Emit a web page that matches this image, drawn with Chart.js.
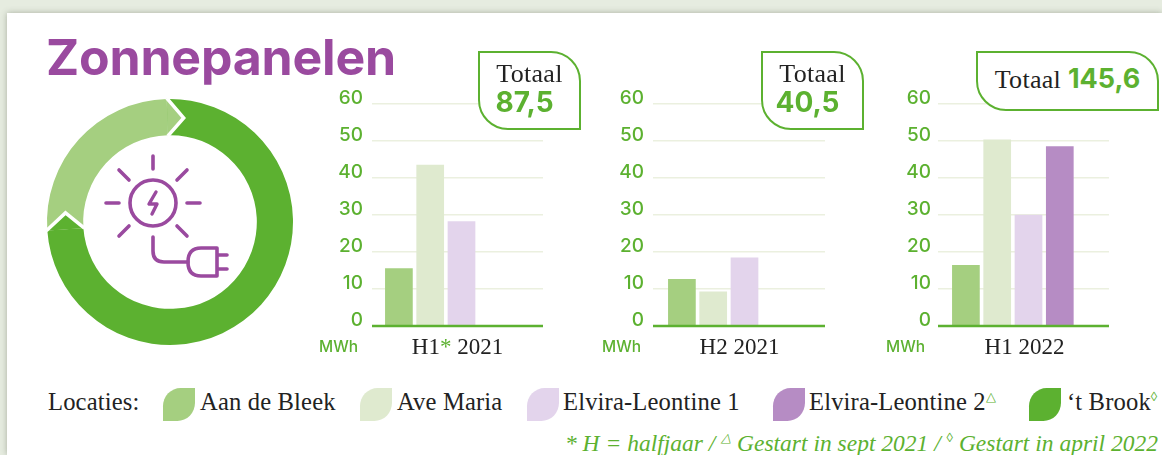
<!DOCTYPE html>
<html>
<head>
<meta charset="utf-8">
<script src="https://cdn.jsdelivr.net/npm/chart.js@4"></script>
<style>
    html, body { margin: 0; padding: 0; width: 1162px; height: 455px; overflow: hidden; background: #e6ece0; }
    #panel { position: absolute; left: 7px; top: 13px; width: 1155px; height: 442px; background: #fff; box-shadow: 0 0 6px rgba(90,100,80,0.45); }
    canvas, .abs { position: absolute; }
    .serif { font-family: "Liberation Serif", serif; color: #222; white-space: nowrap; }
    #title { left: 46px; top: 27px; font: 700 50px/60px Inter, sans-serif; color: #9a4a9f; letter-spacing: -0.2px; }
    .box { box-sizing: border-box; background: #fff; border: 2px solid #5cb130; border-radius: 0 30px 0 30px; text-align: center; font-size: 26px; line-height: 27px; letter-spacing: 0.3px; }
    .total { font: 700 28px/30px Inter, sans-serif; color: #5cb130; letter-spacing: 0; }
    .shifted { padding-right: 10px; }
    .mwh { font: 500 15.5px/20px Inter, sans-serif; color: #5cb130; top: 337px; }
    .leaf { width: 32px; height: 33px; top: 388px; border-radius: 55% 0 55% 0; }
    .legend { top: 388px; font-size: 24.6px; line-height: 28px; letter-spacing: 0.15px; }
    sup { font-size: 13px; line-height: 0; color: #5cb130; }
    #note { right: 4px; top: 429px; font-size: 23.5px; line-height: 28px; font-style: italic; color: #5cb130; }
</style>
</head>
<body>
<div id="panel"></div>
<canvas id="ring" width="260" height="260" style="left:40px;top:92px"></canvas>
<svg class="abs" style="left:90px;top:145px" width="160" height="140" viewBox="90 145 160 140" fill="none" stroke="#9a4a9f" stroke-width="3.6" stroke-linecap="round" stroke-linejoin="round">
    <circle cx="153" cy="203" r="23"/>
    <path d="M153 156v13M119 170l10 10M187 170l-10 10M106 203h13M187 203h13M119 236l10-10M187 236l-10-10"/>
    <path d="M156 192l-7 12h8l-5 10" stroke-width="3.4"/>
    <path d="M153 237v14q0 11 11 11h24"/>
    <path d="M217 248h-16q-13 0-13 14t13 14h16zM217 255h10M217 269h10"/>
</svg>
<canvas id="chart1" width="240" height="300"></canvas>
<canvas id="chart2" width="240" height="300"></canvas>
<canvas id="chart3" width="240" height="300"></canvas>
<div id="title" class="abs">Zonnepanelen</div>

<div class="abs box serif" style="left:478px;top:51px;width:103px;height:79px;padding-top:7px">Totaal<div class="total shifted">87,5</div></div>
<div class="abs box serif" style="left:761px;top:51px;width:103px;height:79px;padding-top:7px">Totaal<div class="total shifted">40,5</div></div>
<div class="abs box serif" style="left:976px;top:51px;width:183px;height:60px;padding-top:11px">Totaal <span class="total" style="font-size:27px">145,6</span></div>

<div class="abs mwh" style="left:319px">MWh</div>
<div class="abs mwh" style="left:602px">MWh</div>
<div class="abs mwh" style="left:886px">MWh</div>

<div class="abs serif legend" style="left:48px">Locaties:</div>
<div class="abs leaf" style="left:163px;background:#a5cf80"></div>
<div class="abs serif legend" style="left:200px">Aan de Bleek</div>
<div class="abs leaf" style="left:360px;background:#dfeacf"></div>
<div class="abs serif legend" style="left:397px">Ave Maria</div>
<div class="abs leaf" style="left:527px;background:#e3d4ec"></div>
<div class="abs serif legend" style="left:563px">Elvira-Leontine 1</div>
<div class="abs leaf" style="left:773px;background:#b68cc4"></div>
<div class="abs serif legend" style="left:809px">Elvira-Leontine 2<sup>△</sup></div>
<div class="abs leaf" style="left:1029px;background:#5cb130"></div>
<div class="abs serif legend" style="left:1067px">‘t Brook<sup>◊</sup></div>
<div id="note" class="abs serif">* H = halfjaar / <sup>△</sup> Gestart in sept 2021 / <sup>◊</sup> Gestart in april 2022</div>

<script>
// Data (MWh per location)
const locations = ["Aan de Bleek", "Ave Maria", "Elvira-Leontine 1", "Elvira-Leontine 2", "'t Brook"];
const periods = ["H1* 2021", "H2 2021", "H1 2022"];
const aanDeBleek = [15.6, 12.7, 16.5];
const aveMaria = [43.6, 9.3, 50.4];
const elviraLeontine1 = [28.3, 18.5, 30.1];
const elviraLeontine2 = [null, null, 48.6];
const tBrook = [null, null, null];
const yTicks = [0, 10, 20, 30, 40, 50, 60];
const ringShares = [74.3, 25.7];

// Color palette
const green = "#5cb130";
const lightGreen = "#a5cf80";
const gridColor = "#ebf0df";
const seriesColors = [lightGreen, "#dfeacf", "#e3d4ec", "#b68cc4", green];
const seriesValues = [aanDeBleek, aveMaria, elviraLeontine1, elviraLeontine2, tBrook];

// Where each small chart sits on the page
const chartTop = 80;
const areaTop = 104;
const areaBottom = 326;
const canvasHeight = 300;
const canvasWidth = 240;
const slotsWidth = 156.5;
const placement = [
    { left: 380, right: 543, gridStart: 372, labelRight: 363, labelShift: -4 },
    { left: 664, right: 825, gridStart: 653, labelRight: 644, labelShift: -5 },
    { left: 948, right: 1109, gridStart: 938, labelRight: 931, labelShift: -4 }
];
const yAxisWidth = 70;

// The asterisk in "H1* 2021" is green, so the axis leaves a gap and the plugin fills it
function tickText(label) {
    return label.replace("*", "\u2002");
}

// Redraws the baseline over the bars and adds the green asterisk
const baselinePlugin = {
    id: "baseline",
    afterDraw: function(chart) {
        const y = chart.scales.y.getPixelForValue(0);
        const tickLen = chart.options.scales.y.grid.tickLength;
        const ctx = chart.ctx;
        ctx.save();
        ctx.strokeStyle = green;
        ctx.lineWidth = 2.4;
        ctx.beginPath();
        ctx.moveTo(chart.chartArea.left - tickLen, y);
        ctx.lineTo(chart.chartArea.right, y);
        ctx.stroke();

        const label = chart.data.labels[0];
        const star = label.indexOf("*");
        if (star >= 0) {
            const item = chart.scales.x.getLabelItems()[0];
            ctx.font = item.font.string;
            const full = ctx.measureText(tickText(label)).width;
            const before = ctx.measureText(label.slice(0, star)).width;
            const x = item.options.translation[0] - full / 2 + before;
            ctx.textAlign = "left";
            ctx.textBaseline = item.options.textBaseline;
            ctx.fillStyle = green;
            ctx.fillText("*", x, item.options.translation[1] + item.textOffset);
        }
        ctx.restore();
    }
};

periods.forEach(function(period, i) {
    const place = placement[i];
    const canvas = document.getElementById("chart" + (i + 1));
    const canvasLeft = place.left - yAxisWidth;
    canvas.style.left = canvasLeft + "px";
    canvas.style.top = chartTop + "px";

    new Chart(canvas.getContext("2d"), {
        type: "bar",
        data: {
            labels: [period],
            datasets: locations.map(function(name, s) {
                return {
                    label: name,
                    data: [seriesValues[s][i]],
                    backgroundColor: seriesColors[s],
                    barPercentage: 0.885,
                    categoryPercentage: slotsWidth / (place.right - place.left)
                };
            })
        },
        options: {
            responsive: false,
            animation: false,
            layout: {
                padding: {
                    top: areaTop - chartTop,
                    right: canvasWidth - (place.right - canvasLeft),
                    left: 0,
                    bottom: 0
                }
            },
            scales: {
                x: {
                    afterFit: function(scale) { scale.height = chartTop + canvasHeight - areaBottom; },
                    grid: { display: false },
                    border: { display: false },
                    ticks: {
                        color: "#222",
                        font: { family: "Liberation Serif", size: 23 },
                        padding: 0,
                        labelOffset: place.labelShift,
                        maxRotation: 0,
                        callback: function(value) {
                            return tickText(this.getLabelForValue(value));
                        }
                    }
                },
                y: {
                    min: 0,
                    max: 60,
                    afterFit: function(scale) { scale.width = yAxisWidth; },
                    afterBuildTicks: function(scale) {
                        scale.ticks = yTicks.map(function(v) { return { value: v }; });
                    },
                    border: { display: false },
                    grid: {
                        color: gridColor,
                        lineWidth: 1.5,
                        tickLength: place.left - place.gridStart
                    },
                    ticks: {
                        color: green,
                        font: { family: "Inter", size: 19, weight: "500" },
                        padding: place.gridStart - place.labelRight,
                        labelOffset: -6
                    }
                }
            },
            plugins: {
                legend: { display: false },
                tooltip: { enabled: false }
            }
        },
        plugins: [baselinePlugin]
    });
});

// Ring: white chevrons at the joins, each arc pointing clockwise into the next
const chevronPlugin = {
    id: "chevrons",
    afterDraw: function(chart) {
        const arcs = chart.getDatasetMeta(0).data;
        const ctx = chart.ctx;
        const tipAngle = 9 * Math.PI / 180;
        arcs.forEach(function(arc, i) {
            const a = arc.endAngle;
            const mid = (arc.innerRadius + arc.outerRadius) / 2;
            const pt = function(r, ang) {
                return [arc.x + r * Math.cos(ang), arc.y + r * Math.sin(ang)];
            };
            const outer = pt(arc.outerRadius + 1, a);
            const tip = pt(mid, a + tipAngle);
            const inner = pt(arc.innerRadius - 1, a);
            ctx.save();
            ctx.beginPath();
            ctx.moveTo(outer[0], outer[1]);
            ctx.lineTo(tip[0], tip[1]);
            ctx.lineTo(inner[0], inner[1]);
            ctx.closePath();
            ctx.fillStyle = chart.data.datasets[0].backgroundColor[i];
            ctx.fill();
            ctx.beginPath();
            ctx.moveTo(outer[0], outer[1]);
            ctx.lineTo(tip[0], tip[1]);
            ctx.lineTo(inner[0], inner[1]);
            ctx.strokeStyle = "#fff";
            ctx.lineWidth = 3.5;
            ctx.stroke();
            ctx.restore();
        });
    }
};

new Chart(document.getElementById("ring").getContext("2d"), {
    type: "doughnut",
    data: {
        labels: ["Groen", "Licht"],
        datasets: [{
            data: ringShares,
            backgroundColor: [green, lightGreen],
            borderWidth: 0
        }]
    },
    options: {
        responsive: false,
        animation: false,
        rotation: -1.5,
        cutout: "70.6%",
        layout: { padding: 7 },
        plugins: {
            legend: { display: false },
            tooltip: { enabled: false }
        }
    },
    plugins: [chevronPlugin]
});
</script>
</body>
</html>
